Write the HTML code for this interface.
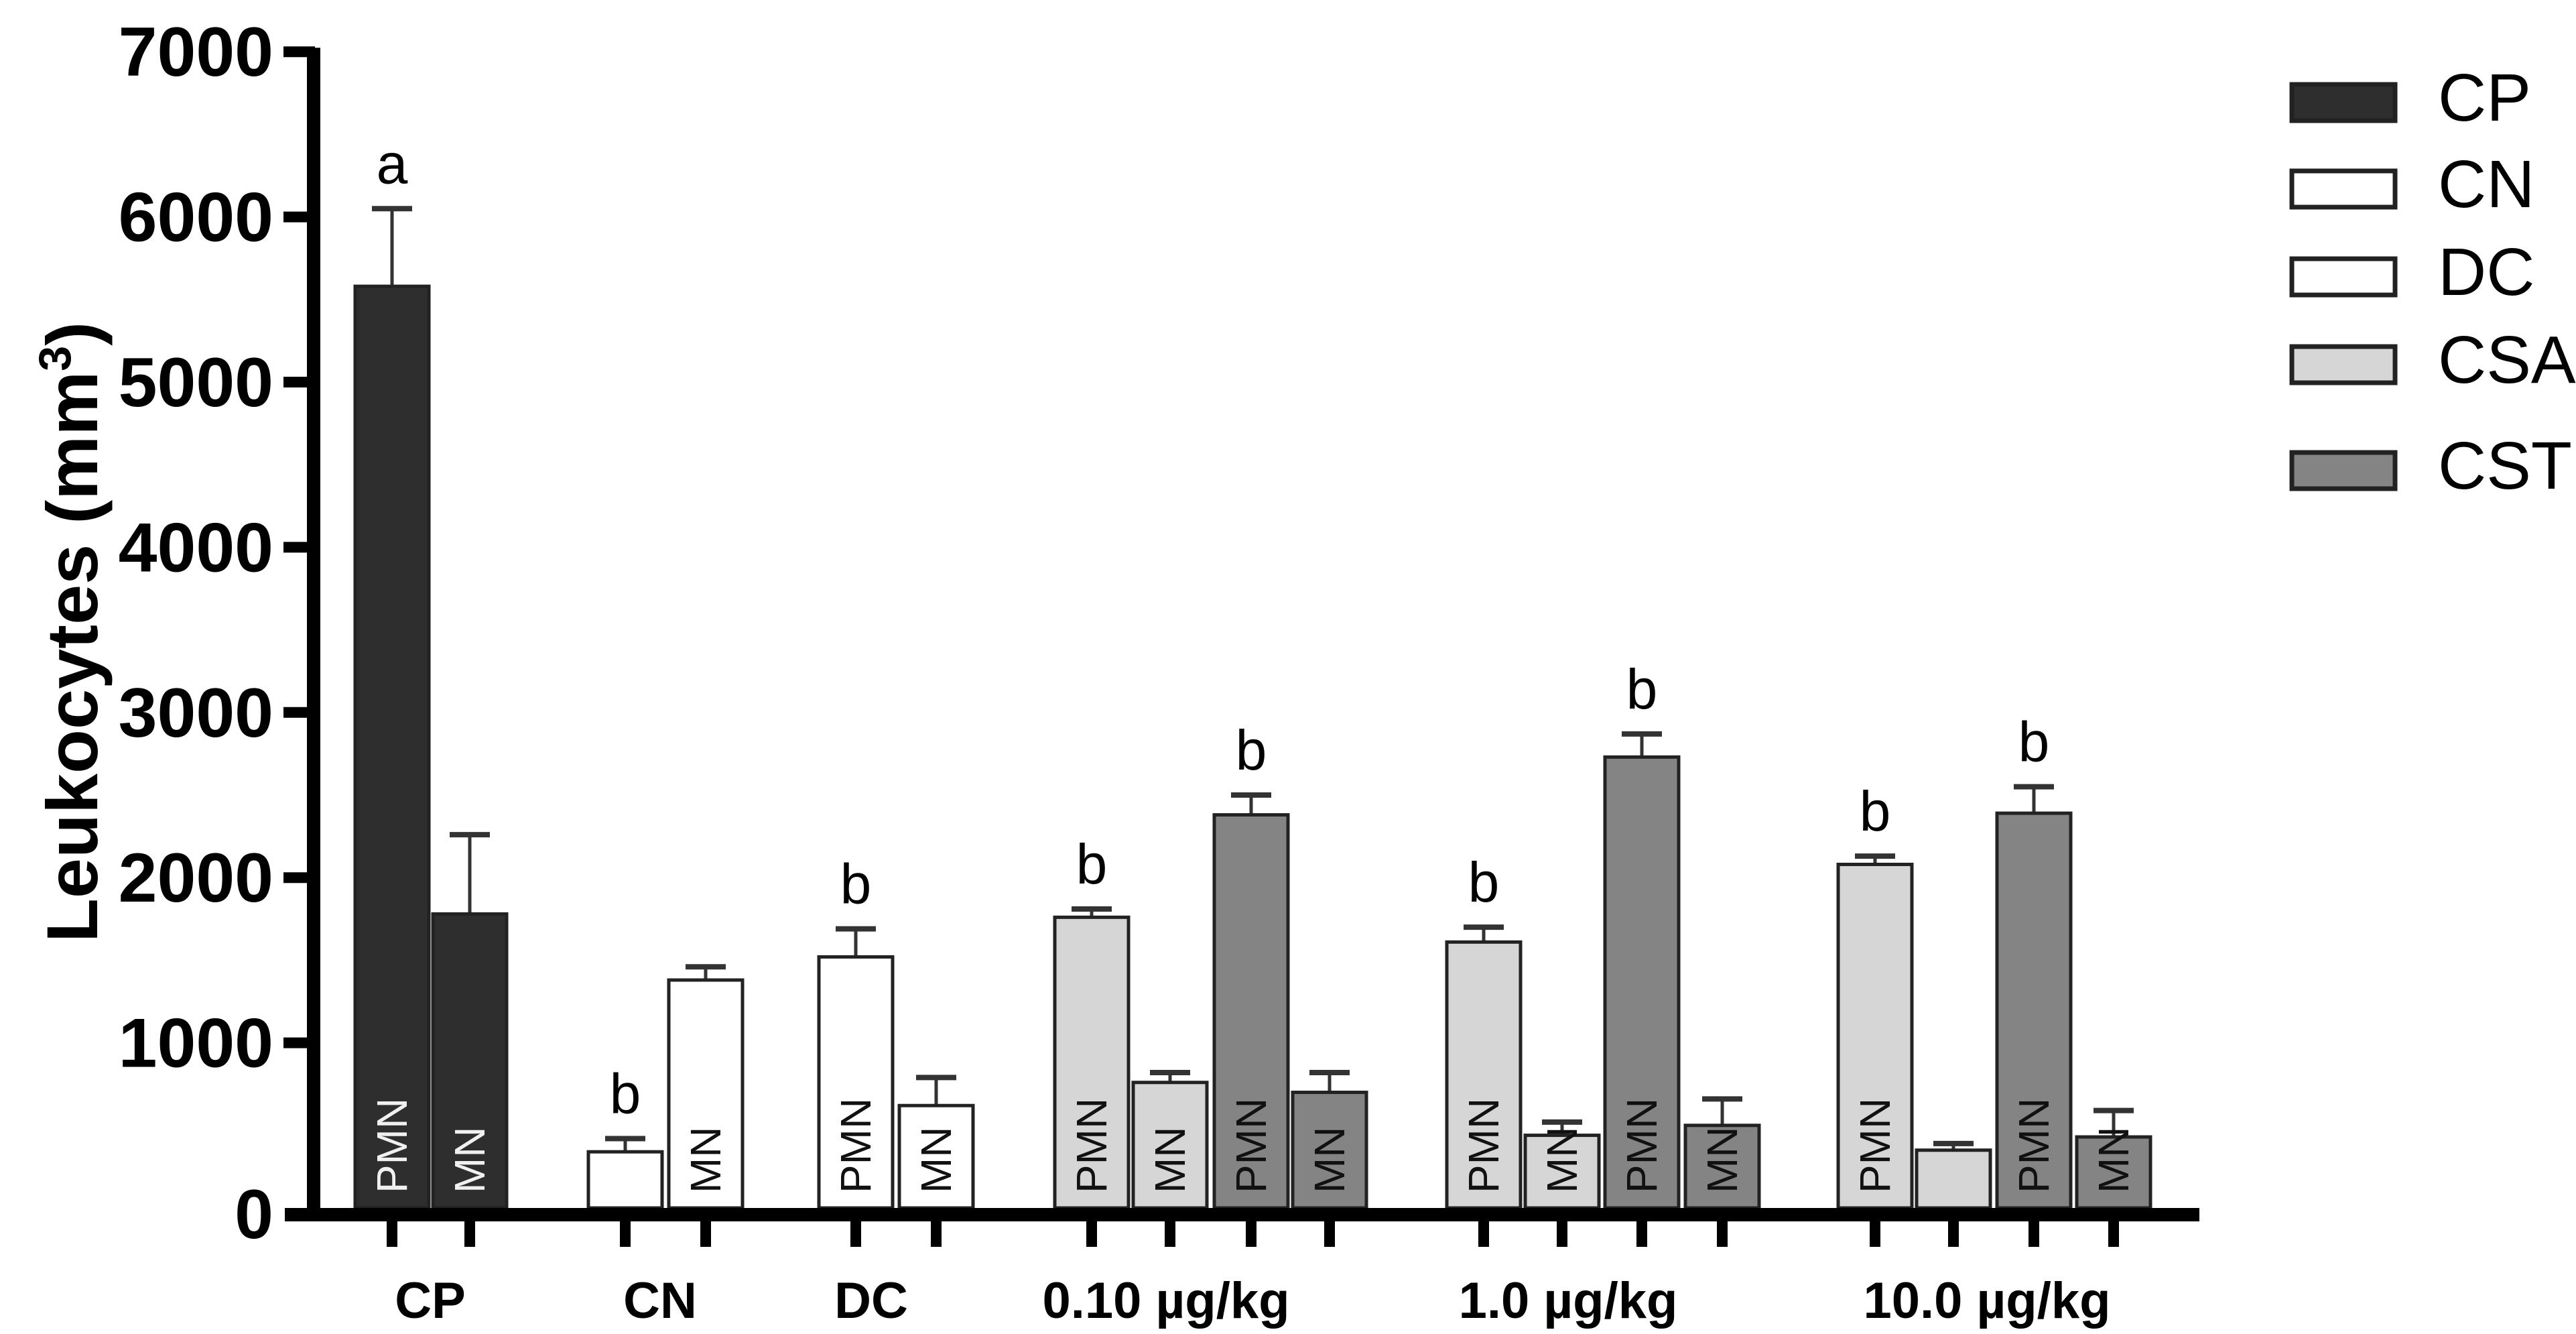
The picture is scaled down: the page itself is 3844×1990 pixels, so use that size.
<!DOCTYPE html>
<html><head><meta charset="utf-8">
<style>
html,body{margin:0;padding:0;background:#fff;}
svg{display:block;font-family:"Liberation Sans",Arial,sans-serif;}
</style></head>
<body>
<svg id="chart" width="3844" height="1990" viewBox="0 0 3844 1990" xmlns="http://www.w3.org/2000/svg">
<g id="plot"></g>
</svg>
<script>
// ---- data ----
const groups = ["CP","CN","DC","0.10 µg/kg","1.0 µg/kg","10.0 µg/kg"];
const barSeries = ["CP","CP","CN","CN","DC","DC","CSA","CSA","CST","CST","CSA","CSA","CST","CST","CSA","CSA","CST","CST"];
const barCells = ["PMN","MN","PMN","MN","PMN","MN","PMN","MN","PMN","MN","PMN","MN","PMN","MN","PMN","MN","PMN","MN"];
const barLabelShown = [1,1,0,1,1,1,1,1,1,1,1,1,1,1,1,0,1,1];
const barGroup = [0,0,1,1,2,2,3,3,3,3,4,4,4,4,5,5,5,5];
const barValues = [5580,1780,340,1380,1520,620,1760,760,2380,700,1610,440,2730,500,2080,350,2390,430];
const barErrors = [6050,2260,420,1460,1690,790,1810,820,2500,820,1700,520,2870,660,2130,390,2550,590];
const barLetters = ["a","","b","","b","","b","","b","","b","","b","","b","","b",""];
const yTicks = [0,1000,2000,3000,4000,5000,6000,7000];
const legendSeries = ["CP","CN","DC","CSA","CST"];

// ---- styles (not data) ----
const fills = {CP:"#2e2e2e",CN:"#ffffff",DC:"#ffffff",CSA:"#d6d6d6",CST:"#848484"};
const textFill = {CP:"#f0f0f0",CN:"#111",DC:"#111",CSA:"#111",CST:"#111"};
const tickX = [585,701,933,1053,1277,1397,1629,1746,1867,1984,2214,2331,2450,2570,2798,2915,3035,3154];
const groupLabelX = [642,985,1300,1740,2340,2965];
const legendY = [126,255,386,517,675];

const NS="http://www.w3.org/2000/svg";
const plot=document.getElementById('plot');
const Y0=1802, PX=246.4/1000;
function yScale(v){return Y0 - v*PX;}
function mk(tag,attrs,parent){const e=document.createElementNS(NS,tag);for(const k in attrs)e.setAttribute(k,attrs[k]);(parent||plot).appendChild(e);return e;}

// bars
const BW=110;
barValues.forEach((v,i)=>{
  const cx=tickX[i], s=barSeries[i];
  const g=mk('g',{});
  
  
  const top=yScale(v), eT=yScale(barErrors[i]);
  const err=mk('line',{x1:cx,x2:cx,y1:top,y2:eT,stroke:'#333','stroke-width':5},g);
  
  
  const cap=mk('line',{x1:cx-30,x2:cx+30,y1:eT,y2:eT,stroke:'#333','stroke-width':8},g);
  
  
  const r=mk('rect',{x:cx-BW/2,y:top,width:BW,height:Y0-top,fill:fills[s],stroke:'#222','stroke-width':5},g);
  
  
  if(barLabelShown[i]){
    const t=mk('text',{x:0,y:0,transform:`translate(${cx+22},1780) rotate(-90)`,'font-size':64,fill:textFill[s]},g);
    t.textContent=barCells[i];
    
    
  }
  if(barLetters[i]){
    const l=mk('text',{x:cx,y:eT-38,'text-anchor':'middle','font-size':84,fill:'#000'},g);
    l.textContent=barLetters[i];
    
    
  }
});

// axes
const yAxis=mk('line',{x1:468,x2:468,y1:yScale(7000)-6,y2:Y0+10,stroke:'#000','stroke-width':20});


const xAxis=mk('line',{x1:425,x2:3282,y1:Y0+10,y2:Y0+10,stroke:'#000','stroke-width':20});


yTicks.forEach(v=>{
  const y=yScale(v);
  if(v>0){
    const tk=mk('line',{x1:423,x2:470,y1:y,y2:y,stroke:'#000','stroke-width':16});
    
    
  }
  const t=mk('text',{x:408,y:y+(v===0?45:36),'text-anchor':'end','font-size':104,'font-weight':'bold',fill:'#000'});
  t.textContent=String(v);
  
  
});
tickX.forEach(x=>{
  const tk=mk('line',{x1:x,x2:x,y1:Y0+15,y2:Y0+58,stroke:'#000','stroke-width':16});
  
  
});
groups.forEach((gname,i)=>{
  const t=mk('text',{x:groupLabelX[i],y:1966,'text-anchor':'middle','font-size':76,'font-weight':'bold',fill:'#000'});
  t.textContent=gname;
  
  
});
const yt=mk('text',{x:0,y:0,transform:'translate(145,943) rotate(-90)','text-anchor':'middle','font-size':108,'font-weight':'bold',fill:'#000'});
yt.innerHTML='Leukocytes (mm<tspan dy="-40" font-size="68">3</tspan><tspan dy="40">)</tspan>';



// legend
legendSeries.forEach((s,i)=>{
  const g=mk('g',{});
  
  
  mk('rect',{x:3420,y:legendY[i],width:154,height:54,fill:fills[s],stroke:'#222','stroke-width':7},g);
  const t=mk('text',{x:3638,y:legendY[i]+54,'font-size':100,fill:'#000'},g);
  t.textContent=s;
});
</script>
</body></html>
